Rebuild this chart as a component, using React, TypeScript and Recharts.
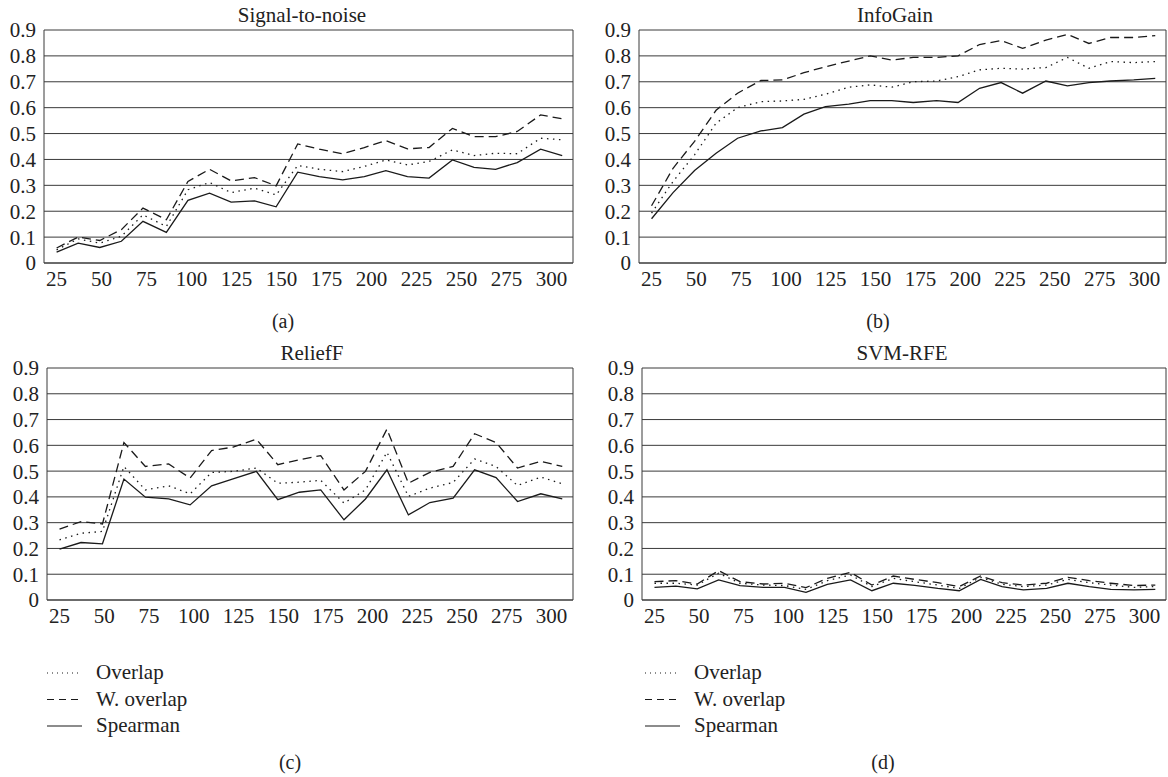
import * as React from "react"
import {
  LineChart, Line,
  XAxis, YAxis,
  CartesianGrid, ReferenceLine,
} from "recharts"

// ── Data ───────────────────────────────────────────────────────
const X_VALUES = [25, 37, 49, 61, 73, 86, 98, 110, 122, 135, 147, 159, 171, 184, 196, 208, 220, 232, 245, 257, 269, 281, 294, 306]
const X_TICKS = [25, 50, 75, 100, 125, 150, 175, 200, 225, 250, 275, 300]
const Y_TICKS = [0, 0.1, 0.2, 0.3, 0.4, 0.5, 0.6, 0.7, 0.8, 0.9]

const SNR_OVERLAP = [0.051, 0.093, 0.077, 0.103, 0.186, 0.141, 0.283, 0.311, 0.272, 0.289, 0.263, 0.377, 0.362, 0.353, 0.373, 0.398, 0.379, 0.392, 0.437, 0.415, 0.424, 0.422, 0.482, 0.476]
const SNR_WOVERLAP = [0.058, 0.100, 0.087, 0.129, 0.212, 0.167, 0.315, 0.362, 0.317, 0.330, 0.298, 0.460, 0.440, 0.422, 0.446, 0.473, 0.441, 0.446, 0.520, 0.488, 0.488, 0.508, 0.572, 0.557]
const SNR_SPEARMAN = [0.042, 0.077, 0.060, 0.084, 0.161, 0.118, 0.242, 0.270, 0.235, 0.240, 0.217, 0.351, 0.334, 0.321, 0.334, 0.357, 0.334, 0.328, 0.398, 0.369, 0.362, 0.388, 0.440, 0.415]

const IG_OVERLAP = [0.193, 0.315, 0.418, 0.540, 0.600, 0.623, 0.626, 0.632, 0.652, 0.679, 0.688, 0.679, 0.700, 0.703, 0.720, 0.746, 0.752, 0.749, 0.755, 0.794, 0.752, 0.778, 0.774, 0.778]
const IG_WOVERLAP = [0.221, 0.366, 0.470, 0.590, 0.656, 0.705, 0.707, 0.735, 0.758, 0.780, 0.800, 0.784, 0.794, 0.794, 0.800, 0.844, 0.859, 0.829, 0.861, 0.883, 0.848, 0.871, 0.871, 0.878]
const IG_SPEARMAN = [0.171, 0.272, 0.357, 0.424, 0.482, 0.510, 0.523, 0.575, 0.604, 0.614, 0.627, 0.627, 0.620, 0.627, 0.620, 0.675, 0.697, 0.656, 0.703, 0.684, 0.697, 0.703, 0.707, 0.713]

const RF_OVERLAP = [0.233, 0.259, 0.266, 0.518, 0.427, 0.443, 0.412, 0.495, 0.499, 0.512, 0.453, 0.457, 0.464, 0.376, 0.427, 0.573, 0.402, 0.434, 0.456, 0.547, 0.518, 0.444, 0.477, 0.451]
const RF_WOVERLAP = [0.275, 0.304, 0.295, 0.611, 0.518, 0.528, 0.473, 0.580, 0.593, 0.624, 0.525, 0.544, 0.560, 0.427, 0.499, 0.663, 0.453, 0.495, 0.518, 0.645, 0.611, 0.512, 0.538, 0.518]
const RF_SPEARMAN = [0.197, 0.223, 0.218, 0.469, 0.399, 0.392, 0.369, 0.443, 0.470, 0.499, 0.389, 0.418, 0.427, 0.311, 0.392, 0.505, 0.330, 0.378, 0.395, 0.505, 0.475, 0.382, 0.412, 0.392]

const SVM_OVERLAP = [0.065, 0.065, 0.058, 0.104, 0.065, 0.058, 0.056, 0.041, 0.075, 0.097, 0.052, 0.084, 0.071, 0.058, 0.045, 0.088, 0.061, 0.052, 0.058, 0.080, 0.067, 0.058, 0.049, 0.052]
const SVM_WOVERLAP = [0.071, 0.075, 0.062, 0.114, 0.071, 0.062, 0.065, 0.048, 0.084, 0.107, 0.058, 0.093, 0.080, 0.067, 0.052, 0.093, 0.067, 0.058, 0.065, 0.088, 0.075, 0.065, 0.056, 0.058]
const SVM_SPEARMAN = [0.049, 0.054, 0.043, 0.078, 0.056, 0.049, 0.049, 0.030, 0.061, 0.078, 0.036, 0.065, 0.057, 0.045, 0.036, 0.080, 0.052, 0.039, 0.045, 0.065, 0.052, 0.041, 0.039, 0.041]

// ── Styles ─────────────────────────────────────────────────────
const FONT = "Liberation Serif, DejaVu Serif, serif"
const INK = "#1a1a1a"
const GRID = "#3a3a3a"
const TICK = { fontFamily: FONT, fontSize: 21, fill: "#222" }
const X_DOMAIN: [number, number] = [18, 312]

const SERIES = [
  { key: "overlap", label: "Overlap", dash: "1.5 4.5" },
  { key: "wOverlap", label: "W. overlap", dash: "9 5" },
  { key: "spearman", label: "Spearman", dash: undefined },
]

const buildRows = (o: number[], w: number[], s: number[]) =>
  X_VALUES.map((x, i) => ({ x, overlap: o[i], wOverlap: w[i], spearman: s[i] }))

// ── One panel ──────────────────────────────────────────────────
interface PanelProps {
  left: number      // plot area left, page px
  top: number       // plot area top
  plotW: number
  plotH: number
  rows: Record<string, number>[]
}

function Panel({ left, top, plotW, plotH, rows }: PanelProps) {
  const width = plotW + 44 + 2
  const height = plotH + 30 + 30 + 7
  return (
    <div style={{ position: "absolute", left: left - 44, top: top - 30 }}>
      <LineChart
        width={width}
        height={height}
        data={rows}
        margin={{ top: 30, right: 2, bottom: 7, left: 8 }}
      >
        <CartesianGrid vertical={false} stroke={GRID} strokeWidth={1} />
        <XAxis
          dataKey="x"
          type="number"
          domain={X_DOMAIN}
          ticks={X_TICKS}
          allowDataOverflow
          interval={0}
          tick={TICK}
          tickLine={false}
          axisLine={{ stroke: GRID }}
          height={30}
        />
        <YAxis
          type="number"
          domain={[0, 0.9]}
          ticks={Y_TICKS}
          interval={0}
          tick={TICK}
          tickLine={false}
          axisLine={{ stroke: GRID }}
          tickFormatter={(v: number) => (v === 0 ? "0" : v.toFixed(1))}
          width={36}
        />
        <ReferenceLine x={X_DOMAIN[1]} stroke={GRID} strokeWidth={1} />
        {SERIES.map((s) => (
          <Line
            key={s.key}
            type="linear"
            dataKey={s.key}
            stroke={INK}
            strokeWidth={1.3}
            strokeDasharray={s.dash}
            dot={false}
            activeDot={false}
            isAnimationActive={false}
          />
        ))}
      </LineChart>
    </div>
  )
}

// ── Legend block (drawn in the overlay svg) ────────────────────
function LegendBlock({ x, y }: { x: number; y: number }) {
  return (
    <g>
      {SERIES.map((s, i) => (
        <g key={s.key}>
          <line
            x1={x} x2={x + 35}
            y1={y + i * 26.5} y2={y + i * 26.5}
            stroke={INK}
            strokeWidth={1.2}
            strokeDasharray={s.key === "overlap" ? "1 4" : s.dash ? "7 5" : undefined}
          />
          <text x={x + 49} y={y + 6 + i * 26.5} fontFamily={FONT} fontSize={21} fill="#222">
            {s.label}
          </text>
        </g>
      ))}
    </g>
  )
}

export default function App() {
  const TEXT = { fontFamily: FONT, fill: "#222", textAnchor: "middle" as const }
  return (
    <div style={{ position: "absolute", left: 0, top: 0, width: 1168, height: 777, background: "#fff", fontFamily: FONT }}>
      <Panel left={44} top={30} plotW={529} plotH={233} rows={buildRows(SNR_OVERLAP, SNR_WOVERLAP, SNR_SPEARMAN)} />
      <Panel left={639} top={30} plotW={527} plotH={233} rows={buildRows(IG_OVERLAP, IG_WOVERLAP, IG_SPEARMAN)} />
      <Panel left={47} top={368} plotW={526} plotH={232} rows={buildRows(RF_OVERLAP, RF_WOVERLAP, RF_SPEARMAN)} />
      <Panel left={642} top={368} plotW={524} plotH={232} rows={buildRows(SVM_OVERLAP, SVM_WOVERLAP, SVM_SPEARMAN)} />

      <svg width={1168} height={777} style={{ position: "absolute", left: 0, top: 0, pointerEvents: "none" }}>
        <text x={302} y={22} fontSize={21} {...TEXT}>Signal-to-noise</text>
        <text x={895} y={22} fontSize={21} {...TEXT}>InfoGain</text>
        <text x={312} y={360} fontSize={21} {...TEXT}>ReliefF</text>
        <text x={902} y={360} fontSize={21} {...TEXT}>SVM-RFE</text>

        <text x={283} y={328} fontSize={20} {...TEXT}>(a)</text>
        <text x={878} y={328} fontSize={20} {...TEXT}>(b)</text>
        <text x={290} y={769} fontSize={20} {...TEXT}>(c)</text>
        <text x={883} y={769} fontSize={20} {...TEXT}>(d)</text>

        <LegendBlock x={47} y={673} />
        <LegendBlock x={645} y={673} />
      </svg>
    </div>
  )
}
